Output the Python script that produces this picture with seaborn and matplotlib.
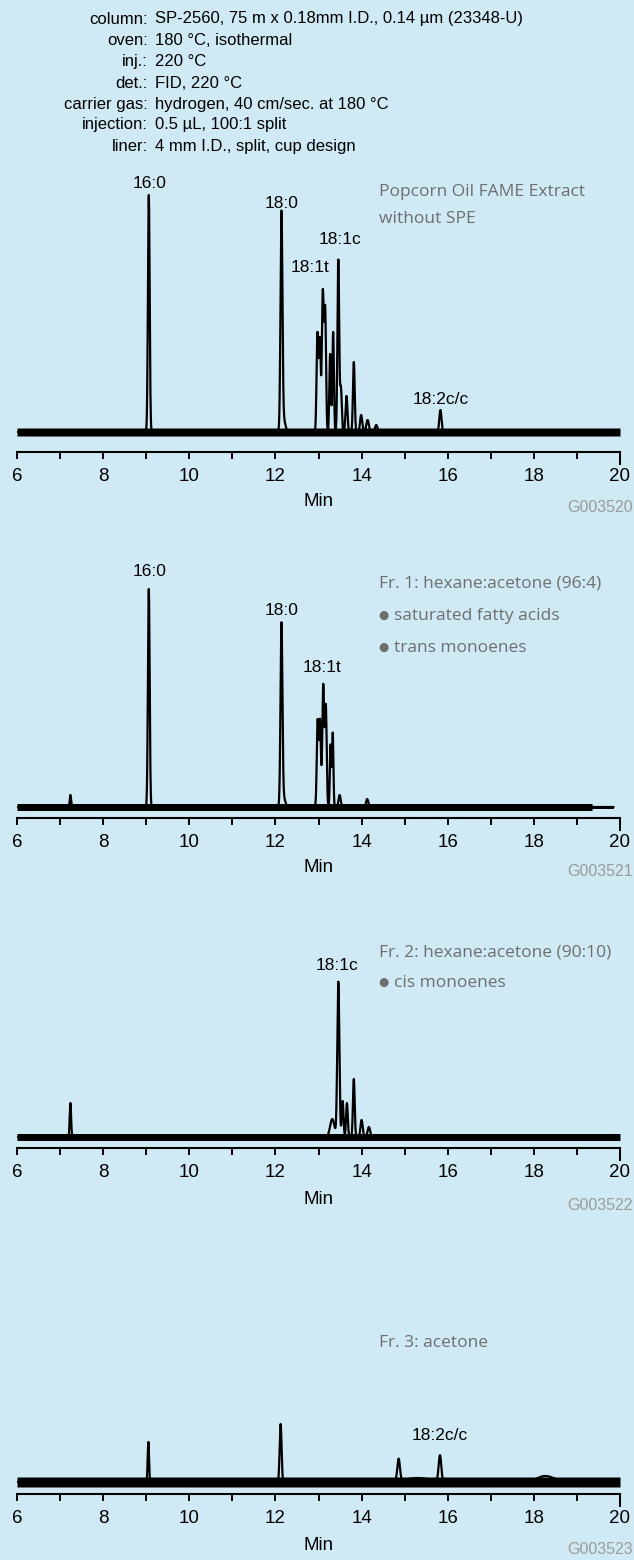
import numpy as np
import pandas as pd
import matplotlib
matplotlib.use("Agg")
import matplotlib.pyplot as plt
import seaborn as sns
from matplotlib.ticker import MultipleLocator

W, H = 634, 1560
BG = "#d0eaf5"
GRAY = "#6e6e6e"

# --------------------------------------------------------
# GC conditions (header)
# --------------------------------------------------------
cond_keys = ["column:", "oven:", "inj.:", "det.:", "carrier gas:", "injection:", "liner:"]
cond_vals = ["SP-2560, 75 m x 0.18mm I.D., 0.14 µm (23348-U)",
             "180 °C, isothermal",
             "220 °C",
             "FID, 220 °C",
             "hydrogen, 40 cm/sec. at 180 °C",
             "0.5 µL, 100:1 split",
             "4 mm I.D., split, cup design"]

# --------------------------------------------------------
# peak tables: retention time (min), height, sigma (min)
# --------------------------------------------------------
p1_time = [9.06, 12.14, 12.18, 12.975, 13.03, 13.10, 13.155, 13.27, 13.34,
           13.46, 13.52, 13.65, 13.82, 13.99, 14.14, 14.34, 15.83]
p1_height = [237, 212, 14, 98, 92, 140, 120, 78, 100, 172, 44, 36, 70, 17, 12, 7, 22]
p1_sigma = [0.02, 0.022, 0.045, 0.02, 0.02, 0.022, 0.02, 0.018, 0.018,
            0.02, 0.02, 0.022, 0.02, 0.025, 0.03, 0.03, 0.025]

p2_time = [7.24, 9.06, 12.14, 12.18, 12.98, 13.035, 13.11, 13.17, 13.28, 13.33, 13.49, 14.13]
p2_height = [12, 218, 178, 10, 86, 86, 122, 100, 62, 74, 12, 8]
p2_sigma = [0.015, 0.02, 0.022, 0.045, 0.02, 0.02, 0.022, 0.02, 0.016, 0.016, 0.025, 0.025]

p3_time = [7.24, 13.32, 13.46, 13.56, 13.66, 13.82, 14.00, 14.17]
p3_height = [34, 18, 155, 36, 34, 58, 17, 10]
p3_sigma = [0.016, 0.05, 0.024, 0.02, 0.02, 0.02, 0.025, 0.03]

p4_time = [9.05, 12.12, 14.86, 15.30, 15.82, 18.27]
p4_height = [40, 58, 22, 4, 26, 6]
p4_sigma = [0.016, 0.022, 0.03, 0.3, 0.03, 0.2]

# baseline level and noise half-band of each trace (signal units)
baselines = [20, 11, 11, 12]
noise_amp = [4.0, 3.5, 3.5, 5.0]
trace_end = [20.0, 19.85, 20.0, 20.0]

# labels
titles = [["Popcorn Oil FAME Extract", "without SPE"],
          ["Fr. 1: hexane:acetone (96:4)", "saturated fatty acids", "trans monoenes"],
          ["Fr. 2: hexane:acetone (90:10)", "cis monoenes"],
          ["Fr. 3: acetone"]]
bulleted = [[False, False], [False, True, True], [False, True], [False]]
peak_labels = [["16:0", "18:0", "18:1t", "18:1c", "18:2c/c"],
               ["16:0", "18:0", "18:1t"],
               ["18:1c"],
               ["18:2c/c"]]
codes = ["G003520", "G003521", "G003522", "G003523"]
tick_vals = [6, 8, 10, 12, 14, 16, 18, 20]

# --------------------------------------------------------
# layout (pixels)
# --------------------------------------------------------
axis_y = [452, 818, 1148, 1494]
title_y = [[192, 219], [584, 616, 648], [952, 983], [1343]]
label_xy = [[(150, 183), (282, 204), (310, 268), (340, 240), (441, 400)],
            [(150, 572), (282, 611), (322, 667)],
            [(337, 965)],
            [(440, 1436)]]
min_y = [501, 867, 1200, 1546]
code_y = [507, 872, 1205, 1550]
AX_L, AX_R, AX_H = 17, 620, 280

sns.set_theme(style="white")
plt.rcParams["font.family"] = ["Liberation Sans", "DejaVu Sans"]

fig = plt.figure(figsize=(W / 100, H / 100), dpi=100, facecolor=BG)


def fx(x):
    return x / W


def fy(y):
    return 1 - y / H


# header
hy = [19, 40.5, 61.5, 83, 104, 125, 146.5]
for k, v, y in zip(cond_keys, cond_vals, hy):
    fig.text(fx(148), fy(y), k, ha="right", va="center", fontsize=12, color="black")
    fig.text(fx(155), fy(y), v, ha="left", va="center", fontsize=12, color="black")

t = np.linspace(6, 20, 5601)
peaks = [(p1_time, p1_height, p1_sigma), (p2_time, p2_height, p2_sigma),
         (p3_time, p3_height, p3_sigma), (p4_time, p4_height, p4_sigma)]

for i in range(4):
    ay = axis_y[i]
    ax = fig.add_axes([fx(AX_L), fy(ay), (AX_R - AX_L) / W, AX_H / H])
    ax.set_facecolor("none")

    times, heights, sigmas = peaks[i]
    sig = np.full_like(t, float(baselines[i]))
    for t0, h0, s0 in zip(times, heights, sigmas):
        sig += h0 * np.exp(-0.5 * ((t - t0) / s0) ** 2)
    keep = t <= trace_end[i]
    df = pd.DataFrame({"Min": t[keep], "signal": sig[keep]})

    amp = np.full(keep.sum(), noise_amp[i])
    if i == 1:
        amp[df["Min"].values > 19.35] = 1.5
    ax.fill_between(df["Min"], baselines[i] - amp, baselines[i] + amp,
                    color="black", lw=0)
    sns.lineplot(data=df, x="Min", y="signal", ax=ax, color="black",
                 lw=1.6, estimator=None, sort=False)

    ax.set_xlim(6, 20)
    ax.set_ylim(0, AX_H)
    ax.set_yticks([])
    ax.set_ylabel("")
    ax.set_xlabel("")
    ax.xaxis.set_minor_locator(MultipleLocator(1))
    ax.set_xticks(tick_vals)
    ax.set_xticklabels([str(v) for v in tick_vals])
    ax.tick_params(axis="x", which="both", direction="out", length=4.8,
                   width=1.4, color="black", labelsize=13.5, pad=6.5,
                   labelcolor="black", bottom=True)
    for s in ["top", "left", "right"]:
        ax.spines[s].set_visible(False)
    ax.spines["bottom"].set_linewidth(1.5)
    ax.spines["bottom"].set_color("black")
    ax.plot([20, 20], [0, -12.5], color="black", lw=1.4, clip_on=False,
            solid_capstyle="butt")

    fig.text(fx((AX_L + AX_R) / 2), fy(min_y[i]), "Min", ha="center",
             va="center", fontsize=13.5, color="black")
    fig.text(fx(633), fy(code_y[i]), codes[i], ha="right", va="center",
             fontsize=11.5, color="#9a9a9a")

    for name, (lx, ly) in zip(peak_labels[i], label_xy[i]):
        fig.text(fx(lx), fy(ly), name, ha="center", va="center",
                 fontsize=12.5, color="black")
    for line, ty, bul in zip(titles[i], title_y[i], bulleted[i]):
        tx = 379
        if bul:
            fig.text(fx(383), fy(ty - 0.5), "\u25cf", ha="center", va="center",
                     fontsize=8.5, color=GRAY, family=["DejaVu Sans"])
            tx = 394
        fig.text(fx(tx), fy(ty), line, ha="left", va="center", fontsize=12.5,
                 color=GRAY, family=["Open Sans", "DejaVu Sans"])

fig.savefig("out.png", dpi=100, facecolor=BG)
